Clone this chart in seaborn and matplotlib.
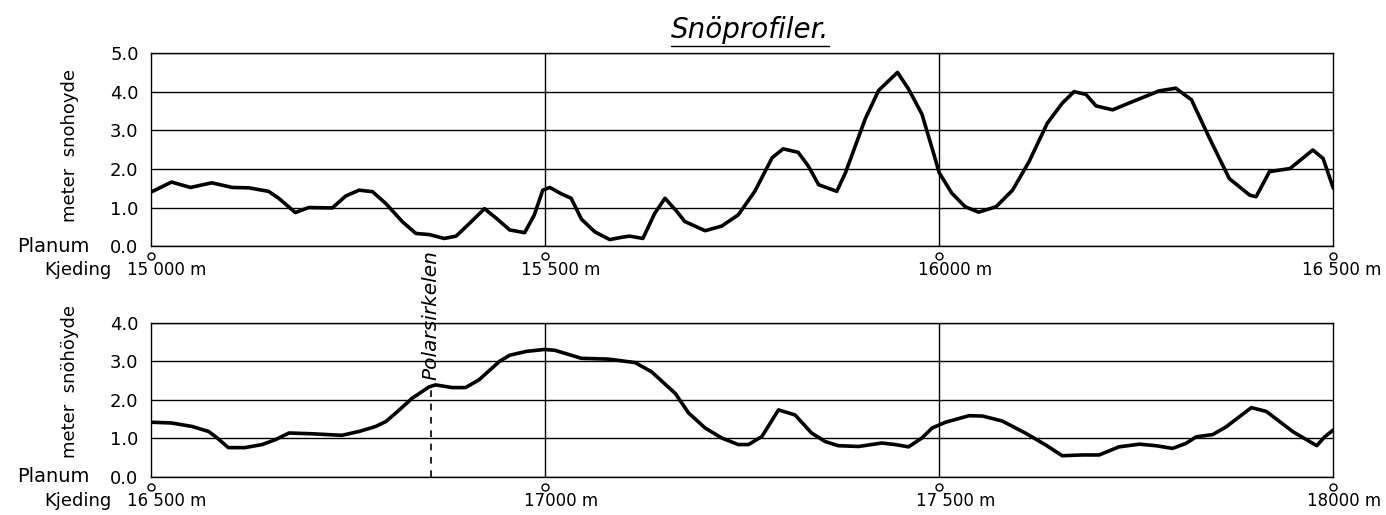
import matplotlib.pyplot as plt
import matplotlib.transforms as mtransforms
import seaborn as sns
from matplotlib.lines import Line2D
from matplotlib.ticker import MultipleLocator

sns.set_style("white")
plt.rcParams["font.family"] = ["DejaVu Sans"]
plt.rcParams["text.color"] = "black"
plt.rcParams["xtick.color"] = "black"
plt.rcParams["ytick.color"] = "black"
plt.rcParams["axes.labelcolor"] = "black"

# snow profile 15 000 - 16 500 m (kjeding in m, snow height in m)
top_kjeding = [
    15000, 15026, 15050, 15077, 15103, 15124, 15149, 15162, 15183, 15200,
    15230, 15247, 15264, 15281, 15298, 15319, 15336, 15353, 15372, 15387,
    15404, 15423, 15437, 15455, 15474, 15486, 15497, 15506, 15520, 15533,
    15546, 15563, 15582, 15597, 15607, 15624, 15639, 15652, 15667, 15677,
    15703, 15724, 15745, 15766, 15788, 15802, 15821, 15834, 15847, 15870,
    15881, 15906, 15923, 15947, 15961, 15978, 15991, 16000, 16016, 16033,
    16050, 16072, 16093, 16114, 16137, 16156, 16171, 16186, 16199, 16220,
    16245, 16279, 16300, 16320, 16343, 16368, 16394, 16402, 16419, 16445,
    16474, 16487, 16500,
]
top_height = [
    1.40, 1.66, 1.52, 1.64, 1.52, 1.51, 1.42, 1.24, 0.87, 1.00,
    0.99, 1.30, 1.45, 1.41, 1.10, 0.63, 0.33, 0.30, 0.20, 0.26,
    0.59, 0.97, 0.74, 0.42, 0.35, 0.80, 1.45, 1.52, 1.36, 1.24,
    0.70, 0.37, 0.17, 0.23, 0.26, 0.20, 0.85, 1.24, 0.90, 0.64,
    0.40, 0.52, 0.81, 1.42, 2.29, 2.52, 2.43, 2.07, 1.59, 1.42,
    1.90, 3.29, 4.03, 4.50, 4.07, 3.42, 2.53, 1.90, 1.37, 1.02,
    0.88, 1.02, 1.45, 2.19, 3.18, 3.70, 4.00, 3.93, 3.63, 3.53,
    3.74, 4.02, 4.09, 3.79, 2.79, 1.75, 1.32, 1.28, 1.93, 2.01,
    2.49, 2.27, 1.50,
]

# snow profile 16 500 - 18 000 m
bot_kjeding = [
    16500, 16526, 16552, 16573, 16584, 16598, 16619, 16641, 16658, 16675,
    16704, 16742, 16764, 16785, 16798, 16815, 16831, 16853, 16861, 16882,
    16899, 16916, 16942, 16955, 16976, 16999, 17012, 17046, 17080, 17114,
    17135, 17165, 17182, 17203, 17224, 17245, 17258, 17275, 17296, 17317,
    17338, 17355, 17372, 17398, 17427, 17444, 17461, 17478, 17491, 17508,
    17538, 17555, 17580, 17610, 17635, 17656, 17682, 17703, 17728, 17754,
    17775, 17796, 17813, 17826, 17847, 17864, 17896, 17915, 17949, 17979,
    17989, 18000,
]
bot_height = [
    1.42, 1.40, 1.31, 1.18, 1.01, 0.76, 0.76, 0.84, 0.97, 1.14,
    1.12, 1.08, 1.18, 1.31, 1.44, 1.74, 2.04, 2.34, 2.39, 2.32,
    2.32, 2.52, 3.00, 3.16, 3.26, 3.31, 3.29, 3.08, 3.06, 2.97,
    2.73, 2.17, 1.66, 1.27, 1.01, 0.84, 0.84, 1.05, 1.74, 1.61,
    1.14, 0.92, 0.81, 0.79, 0.88, 0.84, 0.78, 1.01, 1.27, 1.42,
    1.59, 1.58, 1.45, 1.13, 0.83, 0.55, 0.57, 0.57, 0.78, 0.85,
    0.81, 0.74, 0.87, 1.04, 1.10, 1.30, 1.80, 1.70, 1.17, 0.81,
    1.04, 1.22,
]

top_ticks = [15000, 15500, 16000, 16500]
top_ticklabels = ["15 000 m", "15 500 m", "16000 m", "16 500 m"]
bot_ticks = [16500, 17000, 17500, 18000]
bot_ticklabels = ["16 500 m", "17000 m", "17 500 m", "18000 m"]

polar_kjeding = 16855
polar_height = 2.36


def draw_profile(ax, kjeding, height, ticks, ticklabels, ymax, ylabel, label_y):
    sns.lineplot(x=kjeding, y=height, ax=ax, color="black", lw=2.6,
                 estimator=None, sort=False, solid_joinstyle="round",
                 solid_capstyle="round")
    ax.set_xlim(ticks[0], ticks[-1])
    ax.set_ylim(0, ymax)

    ax.set_yticks(range(ymax + 1))
    ax.set_yticklabels([f"{v:.1f}" for v in range(ymax + 1)], fontsize=13)
    ax.grid(axis="y", color="black", lw=1.0)
    for t in ticks[1:-1]:
        ax.axvline(t, color="black", lw=1.0)

    # station labels sit a bit right of their tick, as in the drawing;
    # the last one is kept inside the page
    ax.set_xticks(ticks)
    ax.set_xticklabels([])
    for i, (t, lab) in enumerate(zip(ticks, ticklabels)):
        last = i == len(ticks) - 1
        ax.annotate(lab, xy=(t, 0), xycoords=ax.get_xaxis_transform(),
                    xytext=(48 if last else 16, -24),
                    textcoords="offset pixels",
                    ha="right" if last else "center", va="center",
                    fontsize=12, annotation_clip=False)
    ax.xaxis.set_minor_locator(MultipleLocator(100))
    ax.tick_params(axis="x", which="major", length=0)
    ax.tick_params(axis="x", which="minor", length=5, width=1.0,
                   direction="out", color="black")
    ax.tick_params(axis="y", length=0, pad=9)
    for side in ax.spines.values():
        side.set_color("black")
        side.set_linewidth(1.0)

    # small survey circles under the major stations
    trans = ax.get_xaxis_transform() + mtransforms.ScaledTranslation(
        0, -0.10, ax.figure.dpi_scale_trans)
    ax.plot(ticks, [0] * len(ticks), transform=trans, marker="o", ls="none",
            mfc="white", mec="black", ms=5, mew=1.0, clip_on=False)

    ax.set_ylabel(ylabel, fontsize=13)
    ax.yaxis.set_label_coords(-72 / 1182, label_y)
    ax.annotate("Planum", xy=(0, 0), xycoords="axes fraction",
                xytext=(-62, 0), textcoords="offset pixels",
                ha="right", va="center", fontsize=14)
    ax.annotate("Kjeding", xy=(0, 0), xycoords="axes fraction",
                xytext=(-40, -24), textcoords="offset pixels",
                ha="right", va="center", fontsize=13)


fig = plt.figure(figsize=(13.86, 5.15), dpi=100)
ax_top = fig.add_axes([0.109, 0.522, 0.853, 0.375])
ax_bot = fig.add_axes([0.109, 0.074, 0.853, 0.299])

draw_profile(ax_top, top_kjeding, top_height, top_ticks, top_ticklabels,
             5, "meter  snohoyde", 0.52)
draw_profile(ax_bot, bot_kjeding, bot_height, bot_ticks, bot_ticklabels,
             4, "meter  snöhöyde", 0.62)

ax_bot.plot([polar_kjeding, polar_kjeding], [0, polar_height],
            color="black", ls=(0, (4, 4)), lw=1.2)
ax_bot.annotate("Polarsirkelen", xy=(polar_kjeding, polar_height),
                xytext=(0, 6), textcoords="offset pixels", rotation=90,
                ha="center", va="bottom", fontsize=14.5, style="italic",
                annotation_clip=False)

title = fig.text(0.541, 0.942, "Snöprofiler.", ha="center", va="center",
                 fontsize=20, style="italic")
fig.canvas.draw()
bb = title.get_window_extent().transformed(fig.transFigure.inverted())
fig.add_artist(Line2D([bb.x0, bb.x1], [bb.y0 - 0.004, bb.y0 - 0.004],
                      color="black", lw=1.0, transform=fig.transFigure))

fig.savefig("out.png", dpi=100, facecolor="white")
